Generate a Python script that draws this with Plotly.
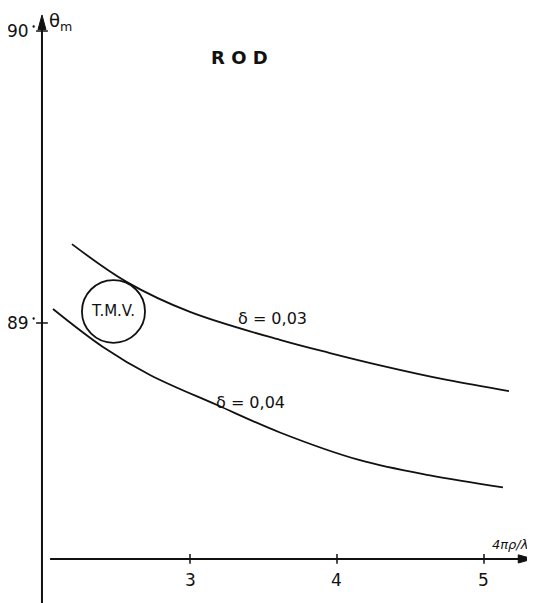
import plotly.graph_objects as go

# Data
x_d003 = [2.197, 2.571, 3.0, 3.612, 3.952, 4.293, 4.748, 5.17]
y_d003 = [89.27, 89.14, 89.038, 88.942, 88.897, 88.855, 88.805, 88.767]

x_d004 = [2.068, 2.408, 2.728, 3.184, 3.612, 4.156, 4.633, 5.129]
y_d004 = [89.048, 88.918, 88.822, 88.719, 88.625, 88.53, 88.478, 88.437]

x_ticks = [3, 4, 5]
x_tick_labels = ["3", "4", "5"]
y_ticks = [90, 89]
y_tick_labels = ["90", "89"]

# TMV circle (data coords)
tmv_x = [2.265, 2.694]
tmv_y = [88.932, 89.147]

# page body has an 8px margin, so the figure starts 8px in
X_RANGE = [1.7619, 5.347]
Y_RANGE = [88.041, 90.0788]
AXIS_X = 1.993     # vertical axis position
AXIS_Y = 88.192    # horizontal axis position
Y_TIP = 90.055
X_TIP = 5.333

FONT = "DejaVu Sans"
BLACK = "#111111"

fig = go.Figure()
fig.add_trace(go.Scatter(x=x_d003, y=y_d003, mode="lines",
                         line=dict(color=BLACK, width=1.8, shape="spline", smoothing=1.0),
                         showlegend=False, hoverinfo="skip"))
fig.add_trace(go.Scatter(x=x_d004, y=y_d004, mode="lines",
                         line=dict(color=BLACK, width=1.8, shape="spline", smoothing=1.0),
                         showlegend=False, hoverinfo="skip"))

shapes = []
# axes lines
shapes.append(dict(type="line", xref="x", yref="y", x0=AXIS_X, x1=AXIS_X,
                   y0=Y_RANGE[0], y1=Y_TIP - 0.03, line=dict(color=BLACK, width=2)))
shapes.append(dict(type="line", xref="x", yref="y", x0=2.048, x1=X_TIP - 0.06,
                   y0=AXIS_Y, y1=AXIS_Y, line=dict(color=BLACK, width=2)))
# arrow heads
shapes.append(dict(type="path", xref="x", yref="y",
                   path=f"M {AXIS_X} {Y_TIP} L {AXIS_X - 0.027} {Y_TIP - 0.05} "
                        f"L {AXIS_X + 0.027} {Y_TIP - 0.05} Z",
                   fillcolor=BLACK, line=dict(color=BLACK, width=1)))
shapes.append(dict(type="path", xref="x", yref="y",
                   path=f"M {X_TIP} {AXIS_Y} L {X_TIP - 0.1} {AXIS_Y + 0.014} "
                        f"L {X_TIP - 0.1} {AXIS_Y - 0.014} Z",
                   fillcolor=BLACK, line=dict(color=BLACK, width=1)))
# circle
shapes.append(dict(type="circle", xref="x", yref="y",
                   x0=tmv_x[0], x1=tmv_x[1], y0=tmv_y[0], y1=tmv_y[1],
                   line=dict(color=BLACK, width=1.8)))
# y tick marks and the small degree dots
for yv in y_ticks:
    shapes.append(dict(type="line", xref="x", yref="y",
                       x0=AXIS_X - 0.04, x1=AXIS_X + 0.04, y0=yv, y1=yv,
                       line=dict(color=BLACK, width=1.5)))
    shapes.append(dict(type="circle", xref="x", yref="y",
                       x0=AXIS_X - 0.063, x1=AXIS_X - 0.05,
                       y0=yv + 0.012, y1=yv + 0.019,
                       fillcolor=BLACK, line=dict(color=BLACK, width=0.5)))
# x tick marks
for xv in x_ticks:
    shapes.append(dict(type="line", xref="x", yref="y",
                       x0=xv, x1=xv, y0=AXIS_Y - 0.017, y1=AXIS_Y + 0.017,
                       line=dict(color=BLACK, width=1.5)))

annotations = []
# tick labels
for yv, lab in zip(y_ticks, y_tick_labels):
    annotations.append(dict(x=AXIS_X - 0.073, y=yv, xref="x", yref="y", text=lab,
                            showarrow=False, xanchor="right", yanchor="middle",
                            font=dict(family=FONT, size=17, color=BLACK)))
for xv, lab in zip(x_ticks, x_tick_labels):
    annotations.append(dict(x=xv, y=AXIS_Y - 0.03, xref="x", yref="y", text=lab,
                            showarrow=False, xanchor="center", yanchor="top",
                            font=dict(family=FONT, size=17, color=BLACK)))
# axis titles
annotations.append(dict(x=2.03, y=90.03, xref="x", yref="y", text="θ<sub>m</sub>",
                        showarrow=False, xanchor="left", yanchor="middle",
                        font=dict(family=FONT, size=18, color=BLACK)))
annotations.append(dict(x=5.31, y=88.242, xref="x", yref="y", text="<i>4πρ/λ</i>",
                        showarrow=False, xanchor="right", yanchor="middle",
                        font=dict(family=FONT, size=13, color=BLACK)))
# texts
annotations.append(dict(x=3.34, y=89.909, xref="x", yref="y", text="<b>R O D</b>",
                        showarrow=False, xanchor="center", yanchor="middle",
                        font=dict(family=FONT, size=18, color=BLACK)))
annotations.append(dict(x=3.56, y=89.017, xref="x", yref="y", text="δ = 0,03",
                        showarrow=False, xanchor="center", yanchor="middle",
                        font=dict(family=FONT, size=16, color=BLACK)))
annotations.append(dict(x=3.41, y=88.729, xref="x", yref="y", text="δ = 0,04",
                        showarrow=False, xanchor="center", yanchor="middle",
                        font=dict(family=FONT, size=16, color=BLACK)))
annotations.append(dict(x=sum(tmv_x) / 2, y=sum(tmv_y) / 2, xref="x", yref="y",
                        text="T.M.V.", showarrow=False, xanchor="center", yanchor="middle",
                        font=dict(family=FONT, size=15, color=BLACK)))

fig.update_layout(
    width=527, height=595,
    margin=dict(l=0, r=0, t=0, b=0),
    paper_bgcolor="white", plot_bgcolor="white",
    xaxis=dict(range=X_RANGE, visible=False, fixedrange=True),
    yaxis=dict(range=Y_RANGE, visible=False, fixedrange=True),
    shapes=shapes, annotations=annotations, showlegend=False,
)
fig.write_html("out.html")
